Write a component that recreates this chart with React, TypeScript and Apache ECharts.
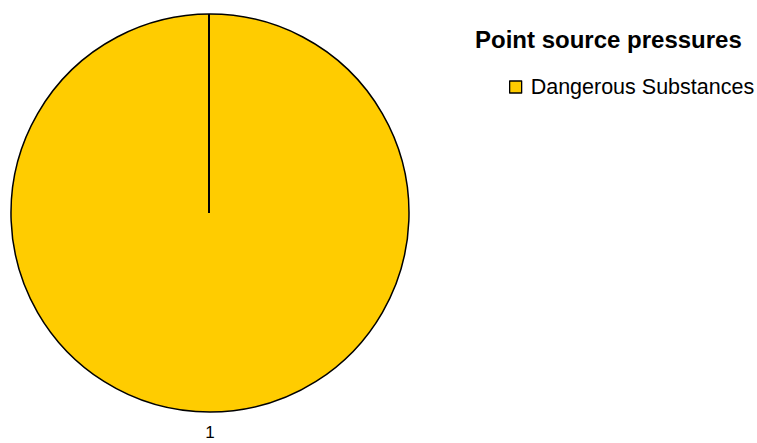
import React, { useEffect, useRef } from "react";
import * as echarts from "echarts";

const chartTitle = "Point source pressures";
const categories = ["Dangerous Substances"];
const values = [1];
const colors = ["#FFCC00"];

const CX = 210;
const CY = 213;
const R = 199;
const FONT = "Liberation Sans, Arial, sans-serif";

export default function App() {
  const ref = useRef<HTMLDivElement>(null);
  useEffect(() => {
    if (!ref.current) return;
    const chart = echarts.init(ref.current, null, { renderer: "svg" });
    chart.setOption({
      animation: false,
      backgroundColor: "#ffffff",
      textStyle: { fontFamily: FONT },
      title: {
        text: chartTitle,
        left: 475,
        top: 27,
        padding: 0,
        textStyle: { fontSize: 24, fontWeight: "bold", color: "#000", fontFamily: FONT },
      },
      legend: {
        orient: "vertical",
        left: 509,
        top: 76,
        padding: 0,
        itemWidth: 12,
        itemHeight: 12,
        icon: "rect",
        itemStyle: { borderColor: "#000", borderWidth: 1.3 },
        textStyle: { fontSize: 21.5, color: "#000", padding: [0, 0, 0, 4], fontFamily: FONT },
        data: categories,
      },
      graphic: [
        {
          type: "line",
          shape: { x1: CX - 1, y1: CY, x2: CX - 1, y2: CY - R },
          style: { stroke: "#000", lineWidth: 2 },
          z: 100,
        },
      ],
      series: [
        {
          type: "pie",
          center: [CX, CY],
          radius: [0, R],
          startAngle: 90,
          clockwise: true,
          data: categories.map((c, i) => ({ name: c, value: values[i], itemStyle: { color: colors[i] } })),
          itemStyle: { borderColor: "#000", borderWidth: 1.5 },
          label: {
            show: true,
            position: "outside",
            formatter: "{c}",
            fontSize: 17,
            color: "#000",
            fontFamily: FONT,
          },
          labelLine: { show: false, length: 20, length2: 0 },
          labelLayout: () => ({ align: "center", dx: -5 }),
          emphasis: { disabled: true },
        },
      ],
    });
    return () => chart.dispose();
  }, []);
  return <div ref={ref} style={{ position: "fixed", left: 0, top: 0, width: 757, height: 443 }} />;
}
